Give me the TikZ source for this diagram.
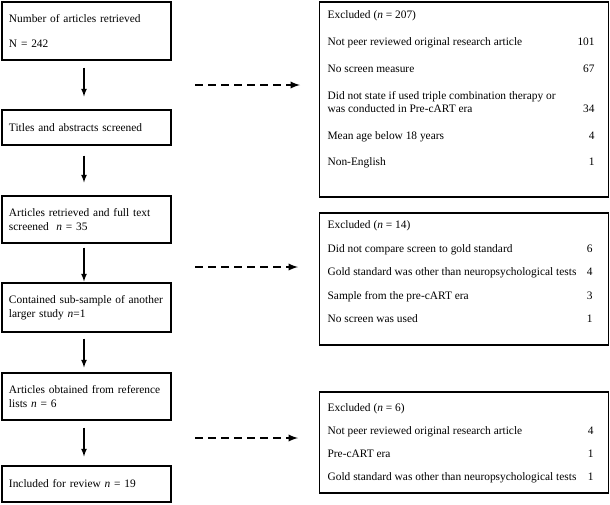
\documentclass[tikz,border=0pt]{standalone}
\usepackage{fontspec}
\setmainfont{Liberation Serif}
\usepackage{tikz}
\usetikzlibrary{positioning}
\usetikzlibrary{arrows}

\begin{document}
\begin{tikzpicture}[x=1pt,y=-1pt,
    font=\fontsize{11.4}{13.5}\selectfont,
    stepbox/.style={rectangle,draw,line width=1.2pt,text width=155pt,align=left,inner xsep=7pt,inner ysep=0pt},
    exbox/.style={rectangle,draw,line width=1.2pt,inner sep=0pt,anchor=base west},
    flow/.style={-latex,line width=1.6pt},
    skip/.style={-latex,line width=2.2pt,dash pattern=on 8pt off 5pt}]

    \useasboundingbox (0,0) rectangle (610,504);

    % screening steps
    \node[stepbox,minimum height=58pt] at (86.5,31) (ret) {Number of articles retrieved\\[11.5pt]N = 242};
    \node[stepbox,minimum height=35pt] at (86.5,127.5) (tit) {Titles and abstracts screened};
    \node[stepbox,minimum height=47pt] at (86.5,219.5) (full) {Articles retrieved and full text\\screened\ \ \textit{n} = 35};
    \node[stepbox,minimum height=49pt] at (86.5,307.5) (sub) {Contained sub-sample of another\\larger study \textit{n}=1};
    \node[stepbox,minimum height=47pt] at (86.5,396.5) (refl) {Articles obtained from reference\\lists \textit{n} = 6};
    \node[stepbox,minimum height=36pt] at (86.5,484) (inc) {Included for review \textit{n} = 19};

    % exclusions
    \node[exbox,text height=16.6pt,text depth=178.4pt] at (319,18.6) (exA) {%
    \begin{tabular*}{289pt}[t]{@{\hspace{8pt}}l@{\extracolsep{\fill}}r@{\hspace{14pt}}}
    Excluded (\textit{n} = 207) & \\[13.5pt]
    Not peer reviewed original research article & 101\\[13.5pt]
    No screen measure & 67\\[13.5pt]
    Did not state if used triple combination therapy or & \\[-0.5pt]
    was conducted in Pre-cART era & 34\\[13.5pt]
    Mean age below 18 years & 4\\[12.5pt]
    Non-English & 1
    \end{tabular*}};
    \node[exbox,text height=15.6pt,text depth=116.4pt] at (319,228.6) (exB) {%
    \begin{tabular*}{289pt}[t]{@{\hspace{8pt}}l@{\extracolsep{\fill}}r@{\hspace{16pt}}}
    Excluded (\textit{n} = 14) & \\[10pt]
    Did not compare screen to gold standard & 6\\[10pt]
    Gold standard was other than neuropsychological tests & 4\\[10pt]
    Sample from the pre-cART era & 3\\[10pt]
    No screen was used & 1
    \end{tabular*}};
    \node[exbox,text height=19.6pt,text depth=81.4pt] at (319,411.6) (exC) {%
    \begin{tabular*}{289pt}[t]{@{\hspace{8pt}}l@{\extracolsep{\fill}}r@{\hspace{15pt}}}
    Excluded (\textit{n} = 6) & \\[9.5pt]
    Not peer reviewed original research article & 4\\[9.5pt]
    Pre-cART era & 1\\[9.5pt]
    Gold standard was other than neuropsychological tests & 1
    \end{tabular*}};

    \coordinate (skipA) at (195,85);
    \coordinate (intoA) at (300,85);
    \coordinate (skipB) at (195,267);
    \coordinate (intoB) at (298,267);
    \coordinate (skipC) at (195,438);
    \coordinate (intoC) at (298,438);

    \path ([xshift=-2.5pt,yshift=-7pt]ret.south) edge[flow] ([xshift=-2.5pt,yshift=13pt]tit.north)
    ([xshift=-2.5pt,yshift=-10pt]tit.south) edge[flow] ([xshift=-2.5pt,yshift=13pt]full.north)
    ([xshift=-2.5pt,yshift=-4pt]full.south) edge[flow] ([xshift=-2.5pt,yshift=1pt]sub.north)
    ([xshift=-2.5pt,yshift=-6pt]sub.south) edge[flow] ([xshift=-2.5pt,yshift=5pt]refl.north)
    ([xshift=-2.5pt,yshift=-7pt]refl.south) edge[flow] ([xshift=-2.5pt,yshift=9pt]inc.north)
    (skipA) edge[skip] (intoA)
    (skipB) edge[skip] (intoB)
    (skipC) edge[skip] (intoC);

\end{tikzpicture}
\end{document}
